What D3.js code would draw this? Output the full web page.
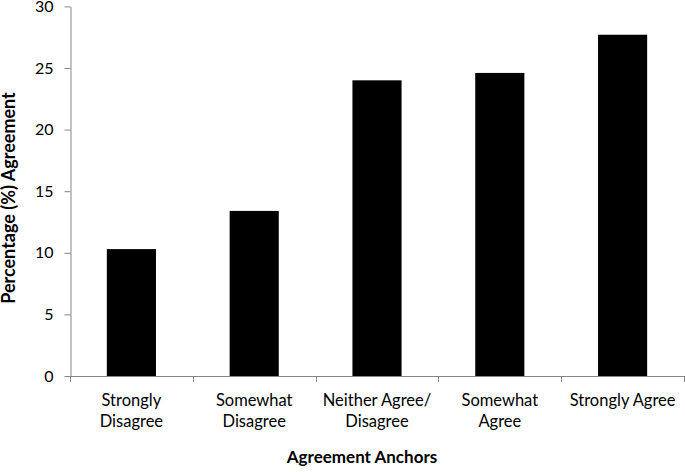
<!DOCTYPE html>
<html>
<head>
<meta charset="utf-8">
<script src="https://cdn.jsdelivr.net/npm/d3@7"></script>
<style>
  body { margin: 0; background: #fff; }
  svg text { font-family: Lato, "Open Sans", sans-serif; fill: #000; }
</style>
</head>
<body>
<script>
// data
var categories = [["Strongly", "Disagree"], ["Somewhat", "Disagree"], ["Neither Agree/", "Disagree"], ["Somewhat", "Agree"], ["Strongly Agree"]];
var values = [10.3, 13.4, 24.0, 24.6, 27.7];
var yTicks = [0, 5, 10, 15, 20, 25, 30];

var width = 685, height = 472;
var plotLeft = 70, plotRight = 684, plotTop = 6.4, plotBottom = 376;

var svg = d3.select("body").append("svg")
    .attr("width", width)
    .attr("height", height);

var x = d3.scaleBand()
    .domain(d3.range(values.length))
    .range([plotLeft, plotRight])
    .paddingInner(0.6)
    .paddingOuter(0.3);

var y = d3.scaleLinear()
    .domain([0, 30])
    .range([plotBottom, plotTop]);

// bars
svg.selectAll("rect.bar")
    .data(values)
    .enter().append("rect")
    .attr("class", "bar")
    .attr("x", function(d, i) { return x(i); })
    .attr("y", function(d) { return y(d); })
    .attr("width", x.bandwidth())
    .attr("height", function(d) { return plotBottom - y(d); })
    .attr("fill", "#000");

// y axis
var yAxis = svg.append("g")
    .attr("transform", "translate(" + (plotLeft + 0.5) + ",0)")
    .call(d3.axisLeft(y).tickValues(yTicks).tickSize(6).tickPadding(11).tickSizeOuter(0));
yAxis.select(".domain").attr("stroke", "#868686");
yAxis.selectAll(".tick line").attr("stroke", "#868686");
yAxis.selectAll(".tick text").style("font-size", "16px").attr("fill", "#000");

// x axis: ticks between categories
var xEdges = d3.range(values.length + 1).map(function(i) { return plotLeft + i * (plotRight - plotLeft) / values.length; });
var xAxis = svg.append("g");
xAxis.append("line")
    .attr("x1", plotLeft).attr("x2", plotRight + 1)
    .attr("y1", plotBottom + 0.5).attr("y2", plotBottom + 0.5)
    .attr("stroke", "#868686");
xAxis.selectAll("line.tk")
    .data(xEdges)
    .enter().append("line")
    .attr("class", "tk")
    .attr("x1", function(d) { return Math.round(d) + 0.5; })
    .attr("x2", function(d) { return Math.round(d) + 0.5; })
    .attr("y1", plotBottom)
    .attr("y2", plotBottom + 6)
    .attr("stroke", "#868686");

// category labels
var lbl = svg.selectAll("text.cat")
    .data(categories)
    .enter().append("text")
    .attr("class", "cat")
    .attr("text-anchor", "middle")
    .style("font-size", "16.5px")
    .attr("transform", function(d, i) { return "translate(" + (x(i) + x.bandwidth() / 2) + ",406)"; });
lbl.selectAll("tspan")
    .data(function(d) { return d; })
    .enter().append("tspan")
    .attr("x", 0)
    .attr("y", function(d, i) { return i * 20.5; })
    .text(function(d) { return d; });

// axis titles
svg.append("text")
    .attr("x", 362)
    .attr("y", 463)
    .attr("text-anchor", "middle")
    .style("font-size", "17px")
    .style("font-weight", "bold")
    .text("Agreement Anchors");

svg.append("text")
    .attr("transform", "translate(15,198) rotate(-90)")
    .attr("text-anchor", "middle")
    .style("font-size", "18px")
    .style("font-weight", "bold")
    .text("Percentage (%) Agreement");
</script>
</body>
</html>
